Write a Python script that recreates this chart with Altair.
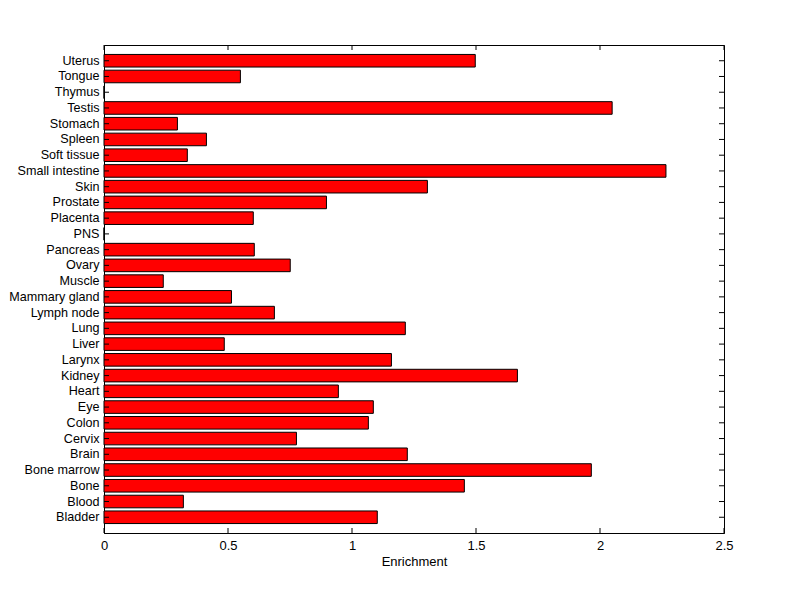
import altair as alt
import pandas as pd

tissues = ["Uterus", "Tongue", "Thymus", "Testis", "Stomach", "Spleen", "Soft tissue",
           "Small intestine", "Skin", "Prostate", "Placenta", "PNS", "Pancreas", "Ovary",
           "Muscle", "Mammary gland", "Lymph node", "Lung", "Liver", "Larynx", "Kidney",
           "Heart", "Eye", "Colon", "Cervix", "Brain", "Bone marrow", "Bone", "Blood", "Bladder"]
enrichment = [1.497, 0.55, 0.0, 2.049, 0.296, 0.413, 0.336,
              2.266, 1.304, 0.897, 0.602, 0.0, 0.606, 0.751,
              0.239, 0.514, 0.687, 1.215, 0.485, 1.159, 1.667,
              0.945, 1.086, 1.066, 0.776, 1.223, 1.965, 1.453, 0.32, 1.102]
x_ticks = [0, 0.5, 1, 1.5, 2, 2.5]

W, H = 620, 488
TL = 5
FONT = "Liberation Sans"
FS = 13
FSY = 12.6

df = pd.DataFrame({"tissue": tissues, "value": enrichment})
tick_df = pd.DataFrame({"x": x_ticks})

yscale = alt.Scale(domain=tissues, paddingInner=0.2, paddingOuter=0.6)
xscale = alt.Scale(domain=[0, 2.5], nice=False, zero=True)

bars = alt.Chart(df).mark_bar(color="#FF0000", stroke="black", strokeWidth=1).encode(
    y=alt.Y("tissue:N", scale=yscale, sort=tissues,
            axis=alt.Axis(title=None, ticks=False, tickSize=0, labelPadding=5,
                          domain=True, domainColor="black", labelFont=FONT,
                          labelFontSize=FSY, labelColor="black")),
    x=alt.X("value:Q", scale=xscale,
            axis=alt.Axis(title="Enrichment", values=x_ticks, format="~g",
                          ticks=False, tickSize=0, labelFlush=False,
                          labelPadding=6, domainColor="black", labelFont=FONT,
                          labelFontSize=FS, labelColor="black", titleFont=FONT,
                          titleFontSize=FS, titleFontWeight="normal", titleColor="black",
                          titlePadding=3, grid=False)),
)

left_ticks = alt.Chart(df).mark_rule(color="black", strokeWidth=1).encode(
    y=alt.Y("tissue:N", scale=yscale, sort=tissues),
    x=alt.value(0), x2=alt.value(TL))
right_ticks = alt.Chart(df).mark_rule(color="black", strokeWidth=1).encode(
    y=alt.Y("tissue:N", scale=yscale, sort=tissues),
    x=alt.value(W - TL), x2=alt.value(W))
bottom_ticks = alt.Chart(tick_df).mark_rule(color="black", strokeWidth=1).encode(
    x=alt.X("x:Q", scale=xscale), y=alt.value(H - TL), y2=alt.value(H))
top_ticks = alt.Chart(tick_df).mark_rule(color="black", strokeWidth=1).encode(
    x=alt.X("x:Q", scale=xscale), y=alt.value(0), y2=alt.value(TL))

chart = alt.layer(bars, left_ticks, right_ticks, bottom_ticks, top_ticks).properties(
    width=W, height=H,
    autosize=alt.AutoSizeParams(type="none"),
    padding={"left": 96, "top": 37, "right": 60, "bottom": 50},
).configure_view(stroke="black", strokeWidth=1).configure_axis(domainWidth=1)

chart.save("out.html", embed_options={"renderer": "svg", "actions": False})
